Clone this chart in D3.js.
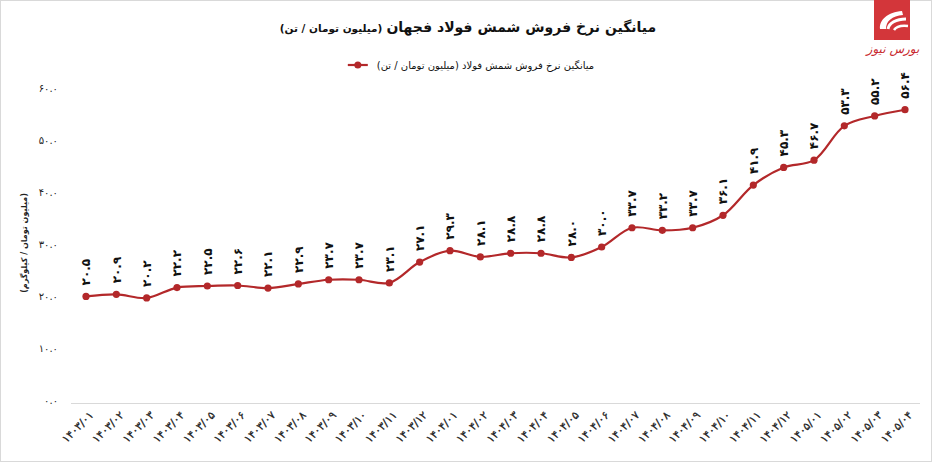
<!DOCTYPE html>
<html><head><meta charset="utf-8">
<script src="https://cdn.jsdelivr.net/npm/d3@7"></script>
<style>
html,body{margin:0;padding:0;background:#fff;}
svg{display:block;font-family:"DejaVu Sans",sans-serif;}
</style></head>
<body><svg id="c" width="935" height="463"></svg>
<script>
const categories = ["1403/01","1403/02","1403/03","1403/04","1403/05","1403/06","1403/07","1403/08","1403/09","1403/10","1403/11","1403/12",
"1404/01","1404/02","1404/03","1404/04","1404/05","1404/06","1404/07","1404/08","1404/09","1404/10","1404/11","1404/12",
"1405/01","1405/02","1405/03","1405/04"];
const values = [20.5,20.9,20.2,22.2,22.5,22.6,22.1,22.9,23.7,23.7,23.1,27.1,29.3,28.1,28.8,28.8,28.0,30.0,33.7,33.2,33.7,36.1,41.9,45.3,46.7,53.3,55.2,56.4];
const yTicks = [0,10,20,30,40,50,60];
const titleMain = "میانگین نرخ فروش شمش فولاد فجهان";
const titleUnit = "(میلیون تومان / تن)";
const legendLabel = "میانگین نرخ فروش شمش فولاد (میلیون تومان / تن)";
const yTitle = "(میلیون تومان / کیلوگرم)";
const logoText = "بورس نیوز";

const fa = s => String(s).replace(/\d/g, d => "۰۱۲۳۴۵۶۷۸۹"[d]);
const red = "#b3282a";
const svg = d3.select("#c");

// frame
svg.append("rect").attr("x",0.5).attr("y",0.5).attr("width",931).attr("height",461)
  .attr("fill","none").attr("stroke","#d9d9d9");

const x = d3.scalePoint().domain(categories).range([86,905]);
const y = d3.scaleLinear().domain([0,60]).range([403,91]);

// title
const tMain = svg.append("text").attr("y",32).attr("font-size",14).attr("font-weight","bold")
  .attr("fill","#111").attr("direction","rtl").attr("text-anchor","middle").text(titleMain);
const tUnit = svg.append("text").attr("y",32).attr("font-size",10.5).attr("font-weight","bold")
  .attr("fill","#111").attr("direction","rtl").attr("text-anchor","middle").text(titleUnit);
{
  const wM = tMain.node().getComputedTextLength(), wU = tUnit.node().getComputedTextLength();
  const gap = 4, total = wM+wU+gap, x0 = 468 - total/2;
  tUnit.attr("x", x0 + wU/2);
  tMain.attr("x", x0 + wU + gap + wM/2);
}

// legend
const lg = svg.append("g");
const lt = lg.append("text").attr("y",68.5).attr("font-size",10).attr("fill","#111")
  .attr("direction","rtl").attr("text-anchor","middle").text(legendLabel);
{
  const w = lt.node().getComputedTextLength();
  const total = 20 + 9 + w, x0 = 471 - total/2;
  lg.append("line").attr("x1",x0).attr("x2",x0+20).attr("y1",65).attr("y2",65)
    .attr("stroke",red).attr("stroke-width",2.2);
  lg.append("circle").attr("cx",x0+10).attr("cy",65).attr("r",3.5).attr("fill",red);
  lt.attr("x", x0+29+w/2);
}

// y axis
const yAxis = d3.axisLeft(y).tickValues(yTicks).tickSize(0).tickPadding(0)
  .tickFormat(d => fa(d.toFixed(1)));
const ga = svg.append("g").attr("transform","translate(58,-2.5)").call(yAxis);
ga.select(".domain").remove();
ga.selectAll("text").attr("font-size",10).attr("fill","#222").attr("font-family","DejaVu Sans");

svg.append("text").attr("transform","translate(24,243) rotate(-90)")
  .attr("text-anchor","middle").attr("dy","0.35em").attr("font-size",8).attr("font-weight","bold")
  .attr("fill","#222").attr("direction","rtl").text(yTitle);

// x axis
svg.append("line").attr("x1",71).attr("x2",920).attr("y1",403.5).attr("y2",403.5)
  .attr("stroke","#d9d9d9").attr("stroke-width",1.2);
const xAxis = d3.axisBottom(x).tickSize(0).tickPadding(0).tickFormat(d => fa(d));
const gx = svg.append("g").attr("transform","translate(0,413)").call(xAxis);
gx.select(".domain").remove();
gx.selectAll("text").attr("font-size",11).attr("fill","#222")
  .attr("font-family","DejaVu Sans").attr("stroke","#222").attr("stroke-width",0.25)
  .attr("text-anchor","end").attr("dy","0.35em")
  .attr("transform","translate(5,0) rotate(-45)");

// line
const pts = categories.map((c,i)=>({c, v:values[i]}));
const line = d3.line().x(d=>x(d.c)).y(d=>y(d.v)).curve(d3.curveCatmullRom.alpha(0.5));
svg.append("path").datum(pts).attr("d",line).attr("fill","none")
  .attr("stroke",red).attr("stroke-width",2.2);
svg.selectAll("circle.pt").data(pts).join("circle").attr("class","pt")
  .attr("cx",d=>x(d.c)).attr("cy",d=>y(d.v)).attr("r",3.6).attr("fill",red);

// data labels
svg.selectAll("text.lbl").data(pts).join("text").attr("class","lbl")
  .attr("transform",d=>`translate(${x(d.c)},${y(d.v)-11}) rotate(-90)`)
  .attr("text-anchor","start").attr("dy","0.35em")
  .attr("font-size",12).attr("font-weight","bold").attr("fill","#111")
  .text(d=>fa(d.v.toFixed(1)));

// logo
const logo = svg.append("g");
logo.append("rect").attr("x",874).attr("y",0).attr("width",36).attr("height",40).attr("fill","#d3363a");
logo.append("path").attr("fill","#fff")
  .attr("d","M 880 29 C 879 20 888 12 902 11 L 903 15 C 892 16 886 21 886 29 Z");
logo.append("path").attr("fill","none").attr("stroke","#fff").attr("stroke-width",3)
  .attr("d","M 888 29 C 889 23 896 19 906 19");
logo.append("path").attr("fill","none").attr("stroke","#fff").attr("stroke-width",2.5)
  .attr("d","M 894 30 C 896 27 900 25 908 26");
logo.append("text").attr("x",893).attr("y",53).attr("text-anchor","middle")
  .attr("font-size",12).attr("font-style","italic").attr("fill","#c8282e")
  .attr("direction","rtl").text(logoText);
</script></body></html>
